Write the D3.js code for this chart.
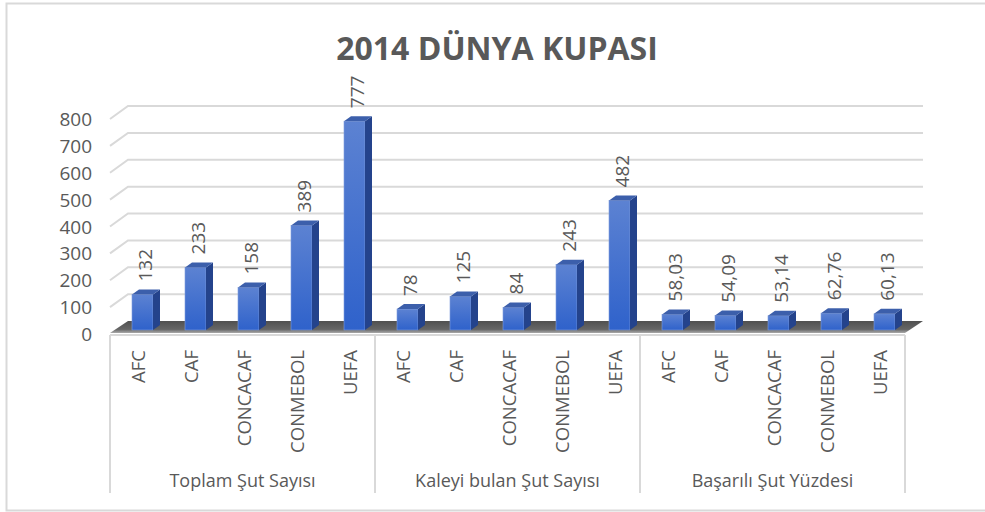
<!DOCTYPE html>
<html>
<head>
<meta charset="utf-8">
<script src="https://cdn.jsdelivr.net/npm/d3@7"></script>
<style>
  body { margin: 0; background: #fff; }
  text { font-family: "Open Sans", "Noto Sans", sans-serif; fill: #595959; }
</style>
</head>
<body>
<div id="chart"></div>
<script>
// chart data
var categories = ["AFC", "CAF", "CONCACAF", "CONMEBOL", "UEFA"];
var groups = ["Toplam Şut Sayısı", "Kaleyi bulan Şut Sayısı", "Başarılı Şut Yüzdesi"];
var toplamSut = [132, 233, 158, 389, 777];
var kaleyiBulan = [78, 125, 84, 243, 482];
var basariliYuzde = [58.03, 54.09, 53.14, 62.76, 60.13];
var yTicks = [0, 100, 200, 300, 400, 500, 600, 700, 800];

var width = 985, height = 512;
var depth = [18, -13];      // 3d depth offset of the plot walls
var barShift = [6, -4];     // bars sit a bit behind the front plane
var barDepth = [7, -5];
var barW = 21;

var seriesByGroup = [toplamSut, kaleyiBulan, basariliYuzde];
var data = [];
groups.forEach(function(g, gi) {
    categories.forEach(function(c, ci) {
        data.push({ key: gi + "-" + c, group: g, cat: c, value: seriesByGroup[gi][ci], gi: gi });
    });
});

var svg = d3.select("#chart").append("svg")
    .attr("width", width)
    .attr("height", height);

var defs = svg.append("defs");
var gFront = defs.append("linearGradient").attr("id", "front")
    .attr("x1", "0%").attr("y1", "0%").attr("x2", "0%").attr("y2", "100%");
gFront.append("stop").attr("offset", "0%").attr("stop-color", "#5c82d2");
gFront.append("stop").attr("offset", "100%").attr("stop-color", "#2f62cb");
var gFloor = defs.append("linearGradient").attr("id", "floor")
    .attr("x1", "0%").attr("y1", "0%").attr("x2", "0%").attr("y2", "100%");
gFloor.append("stop").attr("offset", "0%").attr("stop-color", "#505050");
gFloor.append("stop").attr("offset", "70%").attr("stop-color", "#666");
gFloor.append("stop").attr("offset", "100%").attr("stop-color", "#aaa");

// outer frame
svg.append("rect")
    .attr("x", 6.5).attr("y", 3.5)
    .attr("width", 990).attr("height", 507)
    .attr("fill", "none")
    .attr("stroke", "#d9d9d9")
    .attr("stroke-width", 2);

// title
svg.append("text")
    .attr("x", 497)
    .attr("y", 60)
    .attr("text-anchor", "middle")
    .style("font-size", "32px")
    .style("font-weight", "bold")
    .text("2014 DÜNYA KUPASI");

var x = d3.scaleBand()
    .domain(data.map(function(d) { return d.key; }))
    .range([110, 905]);

var y = d3.scaleLinear()
    .domain([0, 800])
    .range([334, 119]);

var xGroup = d3.scaleBand()
    .domain(groups)
    .range([110, 905]);

// gridlines: side wall + back wall
svg.append("g").selectAll("path")
    .data(yTicks.filter(function(t) { return t > 0; }))
    .enter().append("path")
    .attr("d", function(t) {
        var fy = y(t);
        return "M110," + fy + "L" + (110 + depth[0]) + "," + (fy + depth[1]) +
            "L" + (905 + depth[0]) + "," + (fy + depth[1]);
    })
    .attr("fill", "none")
    .attr("stroke", "#d9d9d9")
    .attr("stroke-width", 2);

// floor
var y0 = y(0);
svg.append("path")
    .attr("d", "M110," + (y0 - 1) + "L905," + (y0 - 1) + "L" + (905 + depth[0]) + "," + (y0 + depth[1]) +
        "L" + (110 + depth[0]) + "," + (y0 + depth[1]) + "Z")
    .attr("fill", "url(#floor)");

// y axis labels
svg.append("g").selectAll("text")
    .data(yTicks)
    .enter().append("text")
    .attr("x", 92)
    .attr("y", function(t) { return y(t); })
    .attr("text-anchor", "end")
    .attr("dominant-baseline", "central")
    .style("font-size", "19px")
    .text(function(t) { return t; });

// bars
var bars = svg.append("g").selectAll("g")
    .data(data)
    .enter().append("g");

function barX(d) { return x(d.key) + x.bandwidth() / 2 + barShift[0] - barW / 2; }
function barBase() { return y(0) + barShift[1]; }
function barTop(d) { return y(d.value) + barShift[1]; }

bars.append("rect")
    .attr("x", barX)
    .attr("y", barTop)
    .attr("width", barW)
    .attr("height", function(d) { return barBase() - barTop(d); })
    .attr("fill", "url(#front)")
    .attr("stroke", "#7f9ddc")
    .attr("stroke-width", 0.6);

bars.append("path")
    .attr("d", function(d) {
        var x1 = barX(d) + barW, t = barTop(d), b = barBase();
        return "M" + x1 + "," + t + "L" + (x1 + barDepth[0]) + "," + (t + barDepth[1]) +
            "L" + (x1 + barDepth[0]) + "," + (b + barDepth[1]) + "L" + x1 + "," + b + "Z";
    })
    .attr("fill", "#24438c");

bars.append("path")
    .attr("d", function(d) {
        var x0 = barX(d), x1 = x0 + barW, t = barTop(d);
        return "M" + x0 + "," + t + "L" + (x0 + barDepth[0]) + "," + (t + barDepth[1]) +
            "L" + (x1 + barDepth[0]) + "," + (t + barDepth[1]) + "L" + x1 + "," + t + "Z";
    })
    .attr("fill", "#3c5fab");

// data labels
var fmt = function(v) { return Number.isInteger(v) ? String(v) : v.toFixed(2).replace(".", ","); };
bars.append("text")
    .attr("transform", function(d) {
        return "translate(" + (barX(d) + barW / 2 + 2) + "," + (barTop(d) - 13) + ") rotate(-90)";
    })
    .attr("dominant-baseline", "central")
    .style("font-size", "19px")
    .text(function(d) { return fmt(d.value); });

// category axis
var axisY = y0 + 1;
svg.append("line")
    .attr("x1", 110).attr("x2", 905)
    .attr("y1", axisY).attr("y2", axisY)
    .attr("stroke", "#d9d9d9").attr("stroke-width", 2);

svg.append("g").selectAll("line")
    .data([0, 1, 2, 3])
    .enter().append("line")
    .attr("x1", function(i) { return 110 + i * xGroup.bandwidth(); })
    .attr("x2", function(i) { return 110 + i * xGroup.bandwidth(); })
    .attr("y1", axisY).attr("y2", 493)
    .attr("stroke", "#d9d9d9").attr("stroke-width", 2);

svg.append("g").selectAll("text")
    .data(data)
    .enter().append("text")
    .attr("transform", function(d) {
        return "translate(" + (x(d.key) + x.bandwidth() / 2 + 1) + ",350) rotate(-90)";
    })
    .attr("text-anchor", "end")
    .attr("dominant-baseline", "central")
    .style("font-size", "18.5px")
    .text(function(d) { return d.cat; });

svg.append("g").selectAll("text")
    .data(groups)
    .enter().append("text")
    .attr("x", function(g) { return xGroup(g) + xGroup.bandwidth() / 2; })
    .attr("y", 487)
    .attr("text-anchor", "middle")
    .style("font-size", "18px")
    .text(function(g) { return g; });
</script>
</body>
</html>
